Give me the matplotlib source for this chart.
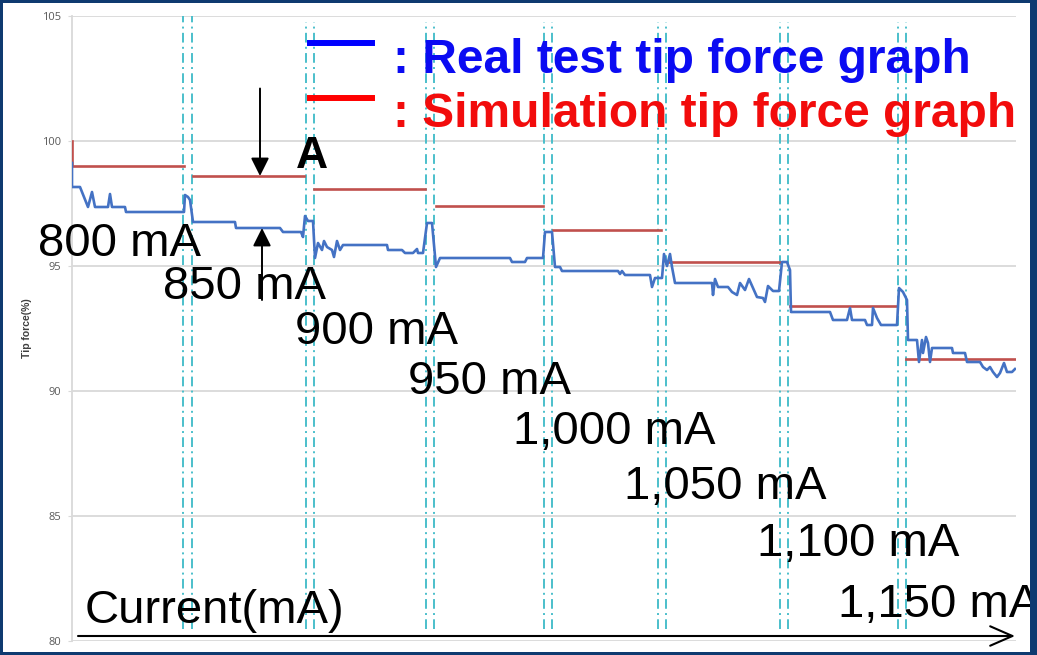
import matplotlib
matplotlib.use("Agg")
import matplotlib.pyplot as plt
from matplotlib.lines import Line2D
from matplotlib.patches import Rectangle

plt.rcParams['font.family'] = ['Liberation Sans', 'DejaVu Sans']

# ---- measured tip force (%) over the test run (x = sample index) ----
real_x = [0, 0, 8, 16, 20, 23, 36, 38, 40, 53, 54, 112, 113, 116, 118, 121, 163, 164, 208, 211,
          229, 231, 233, 236, 241, 243, 246, 250, 252, 255, 260, 262, 265, 268, 271, 315, 316, 330,
          333, 341, 345, 346, 351, 355, 360, 364, 368, 438, 440, 453, 455, 471, 473, 480, 483, 488,
          490, 546, 548, 550, 553, 578, 580, 583, 590, 592, 595, 598, 600, 603, 640, 641, 643, 646,
          656, 660, 665, 668, 673, 677, 681, 685, 691, 693, 696, 701, 707, 710, 715, 718, 719, 758,
          761, 775, 778, 780, 793, 795, 800, 801, 805, 809, 825, 827, 831, 835, 836, 845, 847, 850,
          851, 854, 856, 858, 860, 880, 881, 893, 895, 908, 911, 915, 918, 921, 925, 928, 932, 935,
          940, 943]
real_y = [99.12, 98.16, 98.16, 97.36, 97.96, 97.36, 97.36, 97.88, 97.36, 97.36, 97.16, 97.16, 97.84,
          97.76, 97.64, 96.76, 96.76, 96.52, 96.52, 96.36, 96.36, 96.16, 97.00, 96.80, 96.80, 95.32,
          95.92, 95.64, 96.00, 95.76, 95.64, 95.36, 96.00, 95.64, 95.84, 95.84, 95.64, 95.64, 95.52,
          95.52, 95.68, 95.52, 95.52, 96.72, 96.72, 94.96, 95.32, 95.32, 95.16, 95.16, 95.32, 95.32,
          96.36, 96.36, 94.96, 94.96, 94.80, 94.80, 94.68, 94.80, 94.64, 94.64, 94.16, 94.52, 94.52,
          95.48, 95.00, 95.48, 94.96, 94.32, 94.32, 93.84, 94.48, 94.16, 94.16, 93.96, 93.84, 94.32,
          94.04, 94.48, 94.12, 93.76, 93.72, 93.56, 94.20, 94.00, 94.00, 95.16, 95.16, 94.84, 93.16,
          93.16, 92.84, 92.84, 93.32, 92.84, 92.84, 92.64, 92.64, 93.32, 92.92, 92.64, 92.64, 94.12,
          93.96, 93.64, 92.04, 92.04, 91.16, 92.04, 91.52, 92.16, 91.92, 91.16, 91.72, 91.72, 91.52,
          91.52, 91.16, 91.16, 90.96, 90.84, 90.96, 90.76, 90.56, 90.72, 91.12, 90.76, 90.76, 90.88]

# ---- simulated tip force (%) per current step ----
sim_start_value = 100.0
sim_starts = [0, 121, 242, 364, 481, 596, 718, 834]
sim_ends = [112, 232, 353, 471, 589, 708, 825, 944]
sim_levels = [99.0, 98.6, 98.1, 97.4, 96.45, 95.15, 93.4, 91.3]

# ---- current step change-over markers (pairs) ----
switch_pairs = [(111, 120), (234, 242), (354, 362), (472, 480), (586, 594), (708, 716), (826, 834)]

current_labels = ['800 mA', '850 mA', '900 mA', '950 mA', '1,000 mA', '1,050 mA', '1,100 mA', '1,150 mA']
y_ticks = [80, 85, 90, 95, 100, 105]

W, H = 1037, 655
fig = plt.figure(figsize=(W / 100, H / 100), dpi=100)
fig.patch.set_facecolor('white')


def fx(p):
    return p / W


def fy(p):
    return 1 - p / H


ax = fig.add_axes([fx(72), fy(641), (1016 - 72) / W, (641 - 16) / H])
ax.set_xlim(0, 944)
ax.set_ylim(80, 105)
ax.set_yticks(y_ticks)
ax.set_xticks([])
ax.yaxis.grid(True, color='#D9D9D9', lw=1.3)
ax.set_axisbelow(True)
for s in ['top', 'right', 'bottom']:
    ax.spines[s].set_visible(False)
ax.spines['left'].set_color('#D9D9D9')
ax.spines['left'].set_linewidth(1.3)
ax.tick_params(axis='y', length=3, color='#D9D9D9', labelcolor='#595959', labelsize=8, pad=5)
for lab in ax.get_yticklabels():
    lab.set_fontfamily(['Open Sans', 'DejaVu Sans'])

# change-over markers
for i, (a, b) in enumerate(switch_pairs):
    top = 105 if i == 0 else 104.75
    for xv in (a, b):
        ax.plot([xv, xv], [80.5, top], color='#4BBFCB', lw=1.4,
                linestyle=(0, (5, 2.2, 1, 2.2)), zorder=2)

# simulation steps
for i, (x0, x1, lv) in enumerate(zip(sim_starts, sim_ends, sim_levels)):
    if i == 0:
        ax.plot([x0, x0, x1], [sim_start_value, lv, lv], color='#C0504D', lw=1.9, zorder=3)
    else:
        ax.plot([x0, x1], [lv, lv], color='#C0504D', lw=1.9, zorder=3)

# measured trace
ax.plot(real_x, real_y, color='#4472C4', lw=1.9, zorder=4, solid_joinstyle='round')

# gap "A" between simulated and measured level at 850 mA
arrow_kw = dict(arrowstyle='-|>,head_length=1.1,head_width=0.55', color='black', lw=1.4,
                mutation_scale=10, shrinkA=0, shrinkB=0)
ax.annotate('', xy=(188, sim_levels[1]), xytext=(188, 102.1), arrowprops=arrow_kw, zorder=6)
ax.annotate('', xy=(190, 96.52), xytext=(190, 93.64), arrowprops=arrow_kw, zorder=6)
fig.text(fx(296), fy(168), 'A', fontsize=32, fontweight='bold', ha='left', va='baseline')

# current axis arrow
ax.annotate('', xy=(943, 80.2), xytext=(6, 80.2), annotation_clip=False,
            arrowprops=dict(arrowstyle='->,head_length=1.6,head_width=0.7', color='black', lw=1.5,
                            mutation_scale=10, shrinkA=0, shrinkB=0), zorder=6)

# current step labels
label_pos = [(38, 256), (163, 299), (295, 344), (408, 394), (513, 444), (624, 499), (757, 556), (838, 617)]
for txt, (px, py) in zip(current_labels, label_pos):
    fig.text(fx(px), fy(py), txt, fontsize=34, ha='left', va='baseline', color='black')
fig.text(fx(85), fy(623), 'Current(mA)', fontsize=34, ha='left', va='baseline', color='black')

# y label
fig.text(fx(27), fy(328), 'Tip force(%)', fontsize=7.5, fontweight='bold', rotation=90,
         ha='center', va='center', color='#404040')

# key
fig.add_artist(Line2D([fx(310), fx(372)], [fy(43), fy(43)], color='#0000FF', lw=4.3))
fig.add_artist(Line2D([fx(310), fx(372)], [fy(98), fy(98)], color='#FF0000', lw=4.3))
fig.text(fx(393), fy(73), ': Real test tip force graph', fontsize=34.5, fontweight='bold',
         color='#0B0BF2', ha='left', va='baseline')
fig.text(fx(393), fy(127), ': Simulation tip force graph', fontsize=34.5, fontweight='bold',
         color='#F20C0C', ha='left', va='baseline')

# slide frame
navy = '#0E3A70'
for (x0, y0, w, h) in [(0, 0, 3, H), (0, 0, W, 3), (1030, 0, W - 1030, H), (0, H - 3, W, 3)]:
    fig.add_artist(Rectangle((fx(x0), fy(y0 + h)), w / W, h / H, transform=fig.transFigure,
                             facecolor=navy, edgecolor='none', zorder=20))

fig.savefig('out.png', dpi=100)
